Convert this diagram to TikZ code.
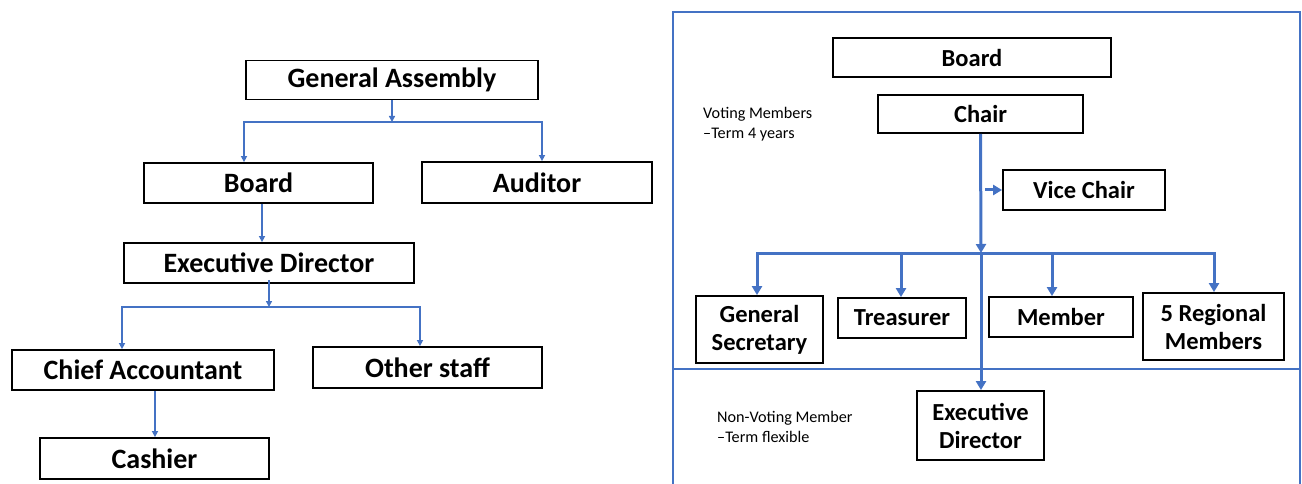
\documentclass[tikz,border=0pt]{standalone}
\usepackage{fontspec}
\setmainfont{Carlito}
\usetikzlibrary{arrows.meta, positioning}
\definecolor{lnblue}{RGB}{68,114,196}
\tikzset{
  unit/.style={draw, line width=1.8pt, inner sep=0pt, align=center,
               font=\bfseries\fontsize{28}{30}\selectfont},
  seat/.style={unit, font=\bfseries\fontsize{24.5}{28}\selectfont},
  thin link/.style={draw=lnblue, line width=1.6pt,
               -{Triangle[length=6pt,width=6pt]}},
  thick link/.style={draw=lnblue, line width=3pt,
               -{Triangle[length=9pt,width=10pt]}},
  note/.style={align=left, inner sep=0pt, anchor=north west,
               font=\fontsize{16.2}{20}\selectfont}
}
\begin{document}
\begin{tikzpicture}[x=1pt, y=-1pt]
\useasboundingbox (0,0) rectangle (1302,484);
%
% secretariat
\node[unit, minimum width=292pt, minimum height=39pt] (ga) at (392,80) {General Assembly};
\node[unit, minimum width=229pt, minimum height=40pt] (bd) at (258.5,183) {Board};
\node[unit, minimum width=230pt, minimum height=41pt] (au) at (537,182.5) {Auditor};
\node[unit, minimum width=290pt, minimum height=40pt] (ed) at (269,263) {Executive Director};
\node[unit, minimum width=262pt, minimum height=40pt] (ca) at (143,370) {Chief Accountant};
\node[unit, minimum width=229pt, minimum height=41pt] (os) at (427.5,367.5) {Other staff};
\node[unit, minimum width=229pt, minimum height=41pt] (cs) at (154.5,458.5) {Cashier};
%
\coordinate (gaj) at (392,122);
\coordinate (edj) at (269,307);
\draw[thin link] (ga.south) -- (gaj);
\draw[thin link] (gaj) -| ([xshift=-14.5pt]bd.north);
\draw[thin link] (gaj) -| ([xshift=5pt]au.north);
\draw[thin link] ([xshift=3.5pt]bd.south) -- ([xshift=-7pt]ed.north);
\draw[thin link] ([yshift=4pt]ed.south) -- (edj);
\draw[thin link] (edj) -| ([xshift=-21pt]ca.north);
\draw[thin link] (edj) -| ([xshift=-7.5pt]os.north);
\draw[thin link] ([xshift=12pt]ca.south) -- ([xshift=0.5pt]cs.north);
%
% board
\draw[lnblue, line width=2.6pt] (673,484) -- (673,12) -- (1300,12) -- (1300,484);
\draw[lnblue, line width=2.6pt] (673,369) -- (1300,369);
\node[note] (vm) at (703,107) {Voting Members\\\textendash Term 4 years};
\node[note] (nv) at (717,411) {Non-Voting Member\\\textendash Term flexible};
%
\node[seat, minimum width=278pt, minimum height=39pt] (rb) at (972,57.5) {Board};
\node[seat, minimum width=205pt, minimum height=38pt] (ch) at (980.5,114) {Chair};
\node[seat, minimum width=162pt, minimum height=40pt] (vc) at (1084,190) {Vice Chair};
\node[seat, minimum width=127pt, minimum height=67pt] (gs) at (759.5,329.5) {General\\Secretary};
\node[seat, minimum width=128pt, minimum height=40pt] (tr) at (902,318) {Treasurer};
\node[seat, minimum width=144pt, minimum height=40pt] (mb) at (1061,317) {Member};
\node[seat, minimum width=141pt, minimum height=67pt] (rm) at (1213.5,326.5) {5 Regional\\Members};
\node[seat, minimum width=127pt, minimum height=69pt] (re) at (980.5,425.5) {Executive\\Director};
%
\coordinate (chj) at (981,253);
\coordinate (vcj) at (985,190);
\draw[thick link] (ch.south) -- (chj);
\draw[thick link] (vcj) -- (vc.west);
\draw[thick link] (chj) -| ([xshift=-2.5pt]gs.north);
\draw[thick link] (chj) -| ([xshift=-1pt]tr.north);
\draw[thick link] (chj) -| ([xshift=-9pt]mb.north);
\draw[thick link] (chj) -| ([xshift=0.5pt]rm.north);
\draw[thick link] (chj) -- (chj |- re.north);
%
\end{tikzpicture}
\end{document}
